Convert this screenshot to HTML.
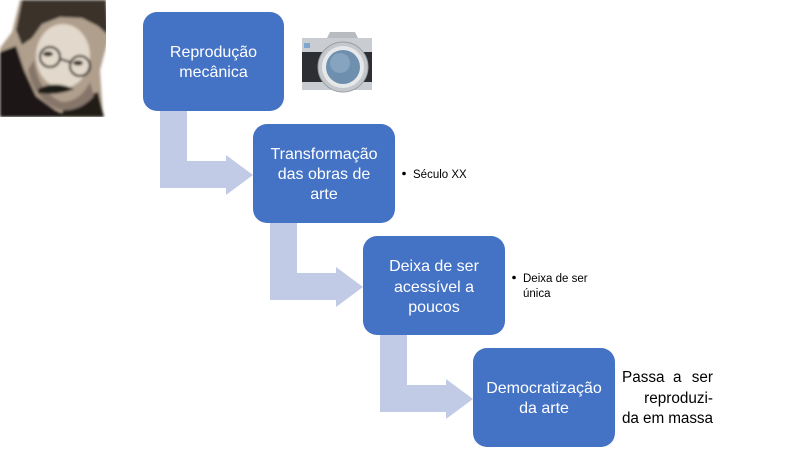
<!DOCTYPE html>
<html><head><meta charset="utf-8"><style>
html,body{margin:0;padding:0;background:#fff;}
svg{display:block;}
</style></head><body>
<svg width="800" height="450" viewBox="0 0 800 450" xmlns="http://www.w3.org/2000/svg" font-family="'Liberation Sans', sans-serif">
<defs>
  <filter id="bl" x="-10%" y="-10%" width="120%" height="120%"><feGaussianBlur stdDeviation="1.3"/></filter>
  <clipPath id="pc"><rect x="0" y="0" width="106" height="117"/></clipPath>
</defs>
<rect width="800" height="450" fill="#fff"/>
<!-- portrait -->
<g clip-path="url(#pc)">
<g filter="url(#bl)">
  <path d="M20,0 L106,0 L108,40 L100,70 L103,117 L0,117 L0,48 L12,32 Z" fill="#b09f8c"/>
  <path d="M22,0 L106,0 L108,35 L98,26 L82,18 L60,17 L42,24 L32,38 L22,45 L16,30 Z" fill="#3a332c"/>
  <path d="M0,52 L16,46 L24,70 L36,96 L55,110 L70,117 L0,117 Z" fill="#1c1815"/>
  <path d="M66,104 L98,92 L104,117 L60,117 Z" fill="#201b17"/>
  <ellipse cx="63" cy="56" rx="27" ry="32" fill="#e2d8cb"/>
  <path d="M34,60 Q38,92 62,102 Q80,102 90,82 L94,96 Q80,112 60,110 Q34,100 28,70 Z" fill="#86766a"/>
  <circle cx="50" cy="57" r="10" fill="none" stroke="#2f2924" stroke-width="2.2"/>
  <circle cx="80" cy="66" r="10" fill="none" stroke="#2f2924" stroke-width="2.2"/>
  <line x1="60" y1="59" x2="70" y2="62" stroke="#2f2924" stroke-width="2"/>
  <path d="M38,89 Q55,80 74,89 Q58,96 38,93 Z" fill="#1f1b17"/>
  <ellipse cx="48" cy="54" rx="5" ry="2.5" fill="#3a322c"/>
  <ellipse cx="78" cy="63" rx="5" ry="2.5" fill="#3a322c"/>
</g>
</g>
<!-- camera -->
<g>
  <path d="M327,38 L330,32 L355,32 L358,38 Z" fill="#b8bcc0"/>
  <rect x="302" y="38" width="70" height="52" rx="2" fill="#2d2f33"/>
  <rect x="302" y="38" width="70" height="14" fill="#c9ccd0"/>
  <rect x="302" y="82" width="70" height="8" fill="#c9ccd0"/>
  <rect x="304" y="43" width="6" height="5" fill="#7ea7d0"/>
  <circle cx="343" cy="67" r="25" fill="#c4c8cc" stroke="#9a9ea3" stroke-width="1"/>
  <circle cx="343" cy="67" r="21" fill="#e6e8ea"/>
  <circle cx="343" cy="67" r="17" fill="#6f8fae"/>
  <circle cx="340" cy="63" r="10" fill="#86a4c0"/>
</g>
<!-- arrows -->
<g fill="#c1cbe5">
  <polygon points="160,111 187,111 187,161 226,161 226,155 253,175 226,195 226,188 160,188"/>
  <polygon points="270,223 297,223 297,273 336,273 336,267 363,287 336,307 336,300 270,300"/>
  <polygon points="380,335 407,335 407,385 446,385 446,379 473,399 446,419 446,412 380,412"/>
</g>
<!-- boxes -->
<g fill="#4472c4">
  <rect x="143" y="12" width="141" height="99" rx="14"/>
  <rect x="253" y="124" width="142" height="99" rx="14"/>
  <rect x="363" y="236" width="142" height="99" rx="14"/>
  <rect x="473" y="348" width="142" height="99" rx="14"/>
</g>
<g fill="#fff" font-size="16" text-anchor="middle">
  <text x="213.5" y="57">Reprodução</text>
  <text x="213.5" y="77">mecânica</text>
  <text x="324" y="159">Transformação</text>
  <text x="324" y="179">das obras de</text>
  <text x="324" y="199">arte</text>
  <text x="434" y="271">Deixa de ser</text>
  <text x="434" y="292">acessível a</text>
  <text x="434" y="312">poucos</text>
  <text x="544" y="393">Democratização</text>
  <text x="544" y="413">da arte</text>
</g>
<!-- side texts -->
<g fill="#000" font-size="11.5">
  <circle cx="404" cy="173.5" r="1.8"/>
  <text x="413" y="178">Século XX</text>
  <circle cx="514" cy="277.5" r="1.8"/>
  <text x="523" y="282">Deixa de ser</text>
  <text x="523" y="297">única</text>
</g>
<g fill="#000" font-size="15.3">
  <text x="622" y="382">Passa</text>
  <text x="673" y="382">a</text>
  <text x="713" y="382" text-anchor="end">ser</text>
  <text x="713" y="403" text-anchor="end">reproduzi-</text>
  <text x="622" y="423" textLength="91" lengthAdjust="spacing">da em massa</text>
</g>
</svg>
</body></html>
